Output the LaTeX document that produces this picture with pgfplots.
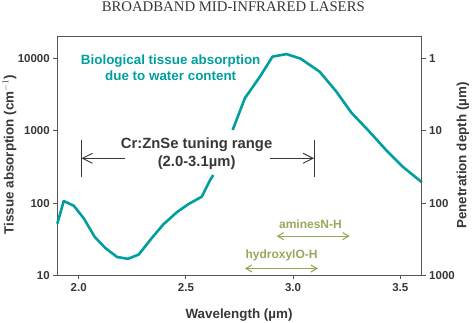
\documentclass[border=0pt]{standalone}
\usepackage{pgfplots}
\pgfplotsset{compat=1.18}
\usepackage{fontspec}
\setmainfont{Liberation Sans}
\newfontfamily\headfont{Liberation Serif}
\usetikzlibrary{arrows.meta}
\definecolor{teal1}{RGB}{0,158,158}
\definecolor{olive1}{RGB}{150,168,92}
\definecolor{axgray}{RGB}{85,85,85}
\definecolor{txtgray}{RGB}{55,55,55}
\begin{document}
\begin{tikzpicture}
\useasboundingbox (-57.3pt,-46.5pt) rectangle (418.7pt,275.5pt);
\begin{axis}[
  scale only axis, width=364.4pt, height=238.8pt,
  xmin=1.9, xmax=3.6, ymode=log, ymin=10, ymax=20000,
  xtick pos=bottom, ytick pos=left,
  axis line style={axgray, line width=0.9pt},
  xtick={2.0,2.5,3.0,3.5}, xticklabels={2.0,2.5,3.0,3.5},
  ytick={10,100,1000,10000}, yticklabels={10,100,1000,10000},
  minor ytick={}, yminorticks=false,
  tick align=outside, major tick length=4pt,
  tick style={axgray, line width=0.9pt},
  ticklabel style={font=\bfseries\fontsize{11.5}{12}\selectfont, text=txtgray},
  clip=false,
]
\addplot[teal1, line width=2.6pt, line join=round] coordinates {
(1.9,52) (1.93,107) (1.977,92) (2.023,62) (2.075,34) (2.124,24) (2.179,18)
(2.23,17) (2.28,19.5) (2.341,33) (2.395,51) (2.458,75) (2.512,97) (2.574,123)
(2.613,209) (2.628,245)
};
\addplot[teal1, line width=2.6pt, line join=round] coordinates {
(2.718,1026) (2.775,2820) (2.845,5590) (2.904,10600) (2.969,11500) (3.035,9950)
(3.124,6560) (3.202,3480) (3.272,1780) (3.349,1026) (3.434,542) (3.512,318) (3.6,195)
};
% tuning range
\draw[txtgray, line width=0.9pt] (axis cs:2.011,232) -- (axis cs:2.011,746);
\draw[txtgray, line width=0.9pt] (axis cs:3.10,232) -- (axis cs:3.10,746);
\draw[txtgray, line width=0.9pt, -{Straight Barb[length=10pt,width=10pt]}] (axis cs:2.217,417) -- (axis cs:2.013,417);
\draw[txtgray, line width=0.9pt, -{Straight Barb[length=10pt,width=10pt]}] (axis cs:2.89,417) -- (axis cs:3.098,417);
\node[align=center, text=txtgray, font=\bfseries\fontsize{14.8}{17.7}\selectfont] at (axis cs:2.55,480) {Cr:ZnSe tuning range\\(2.0-3.1µm)};
\node[align=center, text=teal1, font=\bfseries\fontsize{13.4}{15.7}\selectfont] at (axis cs:2.429,7410) {Biological tissue absorption\\due to water content};
% bands
\draw[olive1, line width=1.1pt, {Straight Barb[length=6pt,width=7pt]}-{Straight Barb[length=6pt,width=7pt]}] (axis cs:2.923,35) -- (axis cs:3.264,35);
\node[text=olive1, font=\bfseries\fontsize{12}{14}\selectfont] at (axis cs:3.081,51.4) {aminesN-H};
\draw[olive1, line width=1.1pt, {Straight Barb[length=6pt,width=7pt]}-{Straight Barb[length=6pt,width=7pt]}] (axis cs:2.775,12.5) -- (axis cs:3.116,12.5);
\node[text=olive1, font=\bfseries\fontsize{12}{14}\selectfont] at (axis cs:2.946,19) {hydroxylO-H};
\end{axis}
\begin{axis}[
  scale only axis, width=364.4pt, height=238.8pt,
  xmin=1.9, xmax=3.6, ymode=log, ymin=0.5, ymax=1000, y dir=reverse,
  axis y line*=right, axis x line=none,
  axis line style={axgray, line width=0.9pt},
  ytick={1,10,100,1000}, yticklabels={1,10,100,1000},
  minor ytick={}, yminorticks=false,
  tick align=outside, major tick length=4pt,
  tick style={axgray, line width=0.9pt},
  ticklabel style={font=\bfseries\fontsize{11.5}{12}\selectfont, text=txtgray},
]
\end{axis}
\node[text=txtgray, font=\headfont\fontsize{14.75}{16}\selectfont] at (176pt,268.5pt) {BROADBAND MID-INFRARED LASERS};
\node[rotate=90, text=txtgray, font=\bfseries\fontsize{13.4}{15}\selectfont] at (-47.8pt,121pt) {Tissue absorption (cm$^{-1}$)};
\node[rotate=90, text=txtgray, font=\bfseries\fontsize{13.4}{15}\selectfont] at (405.7pt,120pt) {Penetration depth (µm)};
\node[text=txtgray, font=\bfseries\fontsize{13.4}{15}\selectfont] at (181.7pt,-39.5pt) {Wavelength (µm)};
\end{tikzpicture}
\end{document}
